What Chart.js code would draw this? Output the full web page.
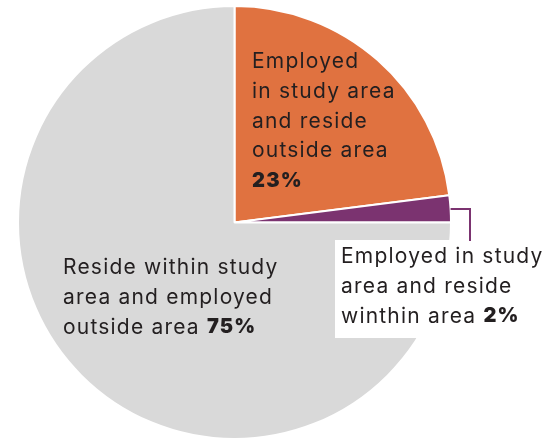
<!DOCTYPE html>
<html>
<head>
<meta charset="utf-8">
<script src="https://cdn.jsdelivr.net/npm/chart.js@4/dist/chart.umd.min.js"></script>
<style>
  html, body { margin: 0; padding: 0; background: #fff; }
  #wrap { width: 558px; height: 440px; position: relative; }
</style>
</head>
<body>
<div id="wrap"><canvas id="pie" width="558" height="440"></canvas></div>
<script>
// données
const categories = [
    'Employed in study area and reside outside area',
    'Employed in study area and reside winthin area',
    'Reside within study area and employed outside area'
];
const shares = [23, 2, 75];
const sliceColors = ['#E07240', '#7B3370', '#D9D9D9'];

// texte des étiquettes, ligne par ligne (le pourcentage est ajouté en gras)
const labelOrange = ['Employed', 'in study area', 'and reside', 'outside area'];
const labelPurple = ['Employed in study', 'area and reside', 'winthin area'];
const labelGrey = ['Reside within study', 'area and employed', 'outside area'];

const TEXT = '#231F20';
const FONT = '"Inter", "Noto Sans", sans-serif';

// Dessine les étiquettes et le trait de rappel du petit secteur
const labelsPlugin = {
    id: 'sliceLabels',
    afterDraw(chart) {
        const ctx = chart.ctx;
        const arcs = chart.getDatasetMeta(0).data;
        ctx.save();
        ctx.textBaseline = 'middle';
        ctx.textAlign = 'left';
        ctx.letterSpacing = '1.2px';

        const lineH = 29.7;
        const regular = '21px ' + FONT;
        const bold = '900 20px ' + FONT;

        // secteur orange
        ctx.fillStyle = TEXT;
        ctx.font = regular;
        labelOrange.forEach((t, i) => ctx.fillText(t, 252, 62 + i * lineH));
        ctx.font = bold;
        ctx.fillText(shares[0] + '%', 252, 62 + labelOrange.length * lineH);

        // secteur gris
        ctx.font = regular;
        labelGrey.forEach((t, i) => ctx.fillText(t, 63, 268 + i * lineH));
        let w = ctx.measureText(labelGrey[labelGrey.length - 1] + ' ').width;
        ctx.font = bold;
        ctx.fillText(shares[2] + '%', 63 + w, 268 + (labelGrey.length - 1) * lineH);

        // trait de rappel (violet)
        const a = arcs[1];
        const mid = (a.startAngle + a.endAngle) / 2;
        const ex = a.x + Math.cos(mid) * a.outerRadius;
        const ey = a.y + Math.sin(mid) * a.outerRadius;
        ctx.fillStyle = '#ffffff';
        ctx.fillRect(335, 240, 223, 98);
        ctx.strokeStyle = sliceColors[1];
        ctx.lineWidth = 2;
        ctx.beginPath();
        ctx.moveTo(ex, ey);
        ctx.lineTo(470, ey);
        ctx.lineTo(470, 241);
        ctx.stroke();

        // étiquette du secteur violet
        ctx.fillStyle = TEXT;
        ctx.font = regular;
        labelPurple.forEach((t, i) => ctx.fillText(t, 341, 257 + i * lineH));
        w = ctx.measureText(labelPurple[labelPurple.length - 1] + ' ').width;
        ctx.font = bold;
        ctx.fillText(shares[1] + '%', 341 + w, 257 + (labelPurple.length - 1) * lineH);

        ctx.restore();
    }
};

new Chart(document.getElementById('pie'), {
    type: 'pie',
    data: {
        labels: categories,
        datasets: [{
            data: shares,
            backgroundColor: sliceColors,
            borderColor: '#ffffff',
            borderWidth: 2
        }]
    },
    options: {
        responsive: false,
        animation: false,
        layout: { padding: { left: 15, right: 104, top: 5, bottom: 0 } },
        plugins: {
            legend: { display: false },
            tooltip: { enabled: false }
        }
    },
    plugins: [labelsPlugin]
});
</script>
</body>
</html>
